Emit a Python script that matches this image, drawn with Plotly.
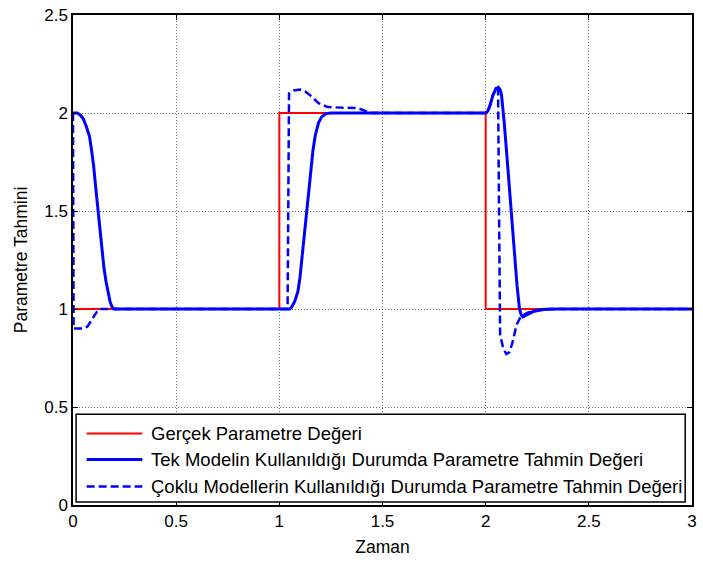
import plotly.graph_objects as go

# True parameter (step profile)
t_true = [0.0, 1.0, 1.0, 2.0, 2.0, 3.0]
p_true = [1.0, 1.0, 2.0, 2.0, 1.0, 1.0]

# Estimate with a single model
t_single = [0.0, 0.02, 0.035, 0.05, 0.065, 0.08, 0.09, 0.10, 0.11, 0.12, 0.13, 0.14,
            0.15, 0.16, 0.17, 0.18, 0.19, 0.2,
            1.05, 1.06, 1.075, 1.09, 1.1, 1.11, 1.12, 1.13, 1.14, 1.15, 1.163, 1.175,
            1.19, 1.205, 1.226, 1.25,
            2.0, 2.01, 2.02, 2.035, 2.05, 2.062, 2.07, 2.077, 2.085, 2.09, 2.1, 2.11,
            2.125, 2.14, 2.152, 2.164, 2.172, 2.18, 2.2, 2.23, 2.28, 2.35, 3.0]
p_single = [2.0, 2.0, 1.99, 1.97, 1.93, 1.88, 1.81, 1.73, 1.62, 1.51, 1.40, 1.30,
            1.21, 1.14, 1.08, 1.035, 1.008, 1.0,
            1.0, 1.01, 1.04, 1.09, 1.16, 1.26, 1.37, 1.48, 1.58, 1.68, 1.81, 1.89,
            1.95, 1.98, 1.997, 2.0,
            2.0, 2.01, 2.035, 2.09, 2.125, 2.13, 2.12, 2.09, 2.02, 1.95, 1.82, 1.68,
            1.49, 1.26, 1.12, 1.0, 0.97, 0.96, 0.972, 0.987, 0.997, 1.0, 1.0]

# Estimate with multiple models
t_multi = [0.0, 0.003, 0.05, 0.07, 0.085, 0.1, 0.115, 0.13, 0.14,
           1.04, 1.047, 1.07, 1.10, 1.125, 1.15, 1.19, 1.235, 1.3, 1.38, 1.43, 1.45,
           2.0, 2.01, 2.02, 2.035, 2.05, 2.06, 2.064, 2.067, 2.07, 2.085, 2.10, 2.115,
           2.13, 2.15, 2.17, 2.2, 2.25, 2.3, 3.0]
p_multi = [2.0, 0.9, 0.9, 0.91, 0.935, 0.96, 0.985, 1.0, 1.0,
           1.0, 2.1, 2.115, 2.12, 2.11, 2.09, 2.05, 2.03, 2.027, 2.025, 2.005, 2.0,
           2.0, 2.01, 2.035, 2.09, 2.125, 2.13, 1.6, 1.0, 0.87, 0.8, 0.77, 0.78,
           0.83, 0.92, 0.96, 0.98, 0.995, 1.0, 1.0]

legend_labels = [
    "Gerçek Parametre Değeri",
    "Tek Modelin Kullanıldığı Durumda Parametre Tahmin Değeri",
    "Çoklu Modellerin Kullanıldığı Durumda Parametre Tahmin Değeri",
]
line_styles = [
    dict(color="#ff0000", width=2),
    dict(color="#0000ff", width=3),
    dict(color="#0000ff", width=2.5, dash="8px,4px"),
]

x_ticks = [0, 0.5, 1, 1.5, 2, 2.5, 3]
x_tick_text = ["0", "0.5", "1", "1.5", "2", "2.5", "3"]
y_ticks = [0, 0.5, 1, 1.5, 2, 2.5]
y_tick_text = ["0", "0.5", "1", "1.5", "2", "2.5"]

FONT = "Arial, Liberation Sans, sans-serif"

fig = go.Figure()
for (tx, py), name, style in zip(
    [(t_true, p_true), (t_single, p_single), (t_multi, p_multi)],
    legend_labels, line_styles,
):
    fig.add_trace(go.Scatter(x=tx, y=py, mode="lines", name=name,
                             line=style, showlegend=False))

# Legend box drawn inside the axes, bottom-left
lx0, lx1, ly0, ly1 = 0.005, 0.989, 0.006, 0.185
fig.add_shape(type="rect", xref="paper", yref="paper", x0=lx0, x1=lx1, y0=ly0, y1=ly1,
              line=dict(color="black", width=1.5), fillcolor="white", layer="above")
row_y = [0.146, 0.093, 0.038]
for ry, label, style in zip(row_y, legend_labels, line_styles):
    fig.add_shape(type="line", xref="paper", yref="paper", x0=0.022, x1=0.112,
                  y0=ry, y1=ry, line=style, layer="above")
    fig.add_annotation(xref="paper", yref="paper", x=0.123, y=ry, text=label,
                       showarrow=False, xanchor="left", yanchor="middle",
                       font=dict(family=FONT, size=18.5, color="black"))

axis_common = dict(
    showline=True, linecolor="black", linewidth=1.5, mirror="ticks",
    ticks="inside", ticklen=5, tickcolor="black", tickwidth=1,
    showgrid=True, gridcolor="#707070", gridwidth=1, griddash="1px,2px",
    zeroline=False, tickfont=dict(family=FONT, size=17, color="black"),
)

fig.update_layout(
    width=703, height=562,
    margin=dict(l=73, r=6, t=12, b=57),
    plot_bgcolor="white", paper_bgcolor="white",
    font=dict(family=FONT, size=17, color="black"),
    xaxis=dict(range=[0, 3], tickvals=x_ticks, ticktext=x_tick_text,
               title=dict(text="Zaman", font=dict(family=FONT, size=17.5), standoff=11),
               **axis_common),
    yaxis=dict(range=[0, 2.5], tickvals=y_ticks, ticktext=y_tick_text,
               title=dict(text="Parametre Tahmini", font=dict(family=FONT, size=17.5), standoff=12),
               **axis_common),
)

fig.write_html("out.html")
